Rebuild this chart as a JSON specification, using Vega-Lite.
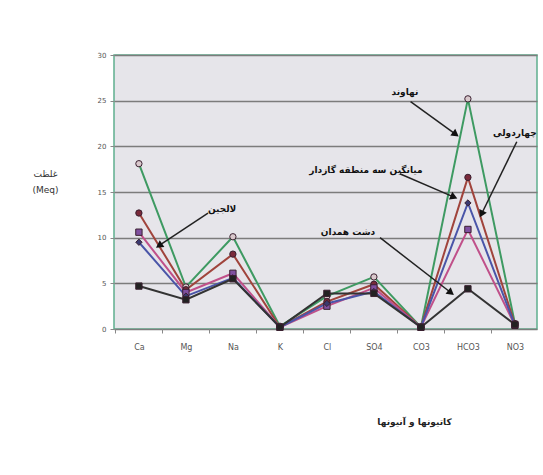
{
  "$schema": "https://vega.github.io/schema/vega-lite/v6.json",
  "width": 423,
  "height": 274,
  "autosize": "none",
  "padding": {"left": 114, "top": 55, "right": 6, "bottom": 146},
  "background": "white",
  "config": {
    "font": "DejaVu Sans",
    "view": {"fill": "#e6e5ea", "stroke": "#5fae8e", "strokeWidth": 1.5}
  },
  "resolve": {"axis": {"x": "independent"}},
  "datasets": {
    "ions": [
      {"s": "نهاوند", "ion": "Ca", "i": 0, "v": 18.1},
      {"s": "نهاوند", "ion": "Mg", "i": 1, "v": 4.6},
      {"s": "نهاوند", "ion": "Na", "i": 2, "v": 10.1},
      {"s": "نهاوند", "ion": "K", "i": 3, "v": 0.3},
      {"s": "نهاوند", "ion": "Cl", "i": 4, "v": 3.6},
      {"s": "نهاوند", "ion": "SO4", "i": 5, "v": 5.7},
      {"s": "نهاوند", "ion": "CO3", "i": 6, "v": 0.2},
      {"s": "نهاوند", "ion": "HCO3", "i": 7, "v": 25.2},
      {"s": "نهاوند", "ion": "NO3", "i": 8, "v": 0.6},
      {"s": "میانگین سه منطقه گازدار", "ion": "Ca", "i": 0, "v": 12.7},
      {"s": "میانگین سه منطقه گازدار", "ion": "Mg", "i": 1, "v": 4.3},
      {"s": "میانگین سه منطقه گازدار", "ion": "Na", "i": 2, "v": 8.2},
      {"s": "میانگین سه منطقه گازدار", "ion": "K", "i": 3, "v": 0.2},
      {"s": "میانگین سه منطقه گازدار", "ion": "Cl", "i": 4, "v": 3.0},
      {"s": "میانگین سه منطقه گازدار", "ion": "SO4", "i": 5, "v": 4.9},
      {"s": "میانگین سه منطقه گازدار", "ion": "CO3", "i": 6, "v": 0.2},
      {"s": "میانگین سه منطقه گازدار", "ion": "HCO3", "i": 7, "v": 16.6},
      {"s": "میانگین سه منطقه گازدار", "ion": "NO3", "i": 8, "v": 0.5},
      {"s": "لالجین", "ion": "Ca", "i": 0, "v": 10.6},
      {"s": "لالجین", "ion": "Mg", "i": 1, "v": 4.0},
      {"s": "لالجین", "ion": "Na", "i": 2, "v": 6.1},
      {"s": "لالجین", "ion": "K", "i": 3, "v": 0.2},
      {"s": "لالجین", "ion": "Cl", "i": 4, "v": 2.5},
      {"s": "لالجین", "ion": "SO4", "i": 5, "v": 4.5},
      {"s": "لالجین", "ion": "CO3", "i": 6, "v": 0.2},
      {"s": "لالجین", "ion": "HCO3", "i": 7, "v": 10.9},
      {"s": "لالجین", "ion": "NO3", "i": 8, "v": 0.4},
      {"s": "چهاردولی", "ion": "Ca", "i": 0, "v": 9.5},
      {"s": "چهاردولی", "ion": "Mg", "i": 1, "v": 3.6},
      {"s": "چهاردولی", "ion": "Na", "i": 2, "v": 5.6},
      {"s": "چهاردولی", "ion": "K", "i": 3, "v": 0.2},
      {"s": "چهاردولی", "ion": "Cl", "i": 4, "v": 2.8},
      {"s": "چهاردولی", "ion": "SO4", "i": 5, "v": 4.1},
      {"s": "چهاردولی", "ion": "CO3", "i": 6, "v": 0.2},
      {"s": "چهاردولی", "ion": "HCO3", "i": 7, "v": 13.8},
      {"s": "چهاردولی", "ion": "NO3", "i": 8, "v": 0.4},
      {"s": "دشت همدان", "ion": "Ca", "i": 0, "v": 4.7},
      {"s": "دشت همدان", "ion": "Mg", "i": 1, "v": 3.2},
      {"s": "دشت همدان", "ion": "Na", "i": 2, "v": 5.5},
      {"s": "دشت همدان", "ion": "K", "i": 3, "v": 0.2},
      {"s": "دشت همدان", "ion": "Cl", "i": 4, "v": 3.9},
      {"s": "دشت همدان", "ion": "SO4", "i": 5, "v": 3.9},
      {"s": "دشت همدان", "ion": "CO3", "i": 6, "v": 0.2},
      {"s": "دشت همدان", "ion": "HCO3", "i": 7, "v": 4.4},
      {"s": "دشت همدان", "ion": "NO3", "i": 8, "v": 0.5}
    ],
    "notes": [
      {"label": "نهاوند", "tx": 5.66, "ty": 25.9, "x1": 5.78, "y1": 24.9, "x2": 6.72, "y2": 21.4},
      {"label": "چهاردولی", "tx": 8.0, "ty": 21.5, "x1": 8.04, "y1": 20.5, "x2": 7.3, "y2": 12.7},
      {"label": "میانگین سه منطقه گازدار", "tx": 4.83, "ty": 17.4, "x1": 5.55, "y1": 17.0, "x2": 6.68, "y2": 14.5},
      {"label": "لالجین", "tx": 1.77, "ty": 13.1, "x1": 1.47, "y1": 12.7, "x2": 0.45, "y2": 9.2},
      {"label": "دشت همدان", "tx": 4.45, "ty": 10.6, "x1": 5.13, "y1": 10.0, "x2": 6.62, "y2": 4.05}
    ]
  },
  "layer": [
    {
      "data": {"name": "ions"},
      "mark": {"type": "line", "strokeWidth": 2},
      "encoding": {
        "x": {
          "field": "i", "type": "quantitative",
          "scale": {"domain": [-0.53, 8.47], "nice": false, "zero": false},
          "axis": {
            "orient": "bottom",
            "values": [0, 1, 2, 3, 4, 5, 6, 7, 8],
            "labelExpr": "datum.value == 0 ? 'Ca' : datum.value == 1 ? 'Mg' : datum.value == 2 ? 'Na' : datum.value == 3 ? 'K' : datum.value == 4 ? 'Cl' : datum.value == 5 ? 'SO4' : datum.value == 6 ? 'CO3' : datum.value == 7 ? 'HCO3' : 'NO3'",
            "labelOverlap": false,
            "labelFontSize": 8,
            "labelColor": "#555",
            "labelPadding": 14,
            "ticks": false,
            "grid": false,
            "domain": false,
            "title": "کاتیونها و آنیونها",
            "titleFontSize": 9,
            "titleFontWeight": "bold",
            "titleColor": "#222",
            "titleX": 300,
            "titleY": 92,
            "titleAnchor": "middle",
            "titleAlign": "center",
            "titleBaseline": "middle"
          }
        },
        "y": {
          "field": "v", "type": "quantitative",
          "scale": {"domain": [0, 30], "nice": false},
          "axis": {
            "values": [0, 5, 10, 15, 20, 25, 30],
            "labelFontSize": 7,
            "labelColor": "#555",
            "labelPadding": 4,
            "tickSize": 4,
            "tickColor": "#888",
            "domain": false,
            "grid": true,
            "gridColor": "#7c7c7c",
            "gridWidth": 1.3,
            "title": ["غلظت", "(Meq)"],
            "titleAngle": 0,
            "titleFontSize": 9,
            "titleFontWeight": "normal",
            "titleColor": "#333",
            "titleLineHeight": 16,
            "titleX": -69,
            "titleY": 118,
            "titleAlign": "center",
            "titleBaseline": "middle"
          }
        },
        "color": {
          "field": "s", "type": "nominal", "legend": null,
          "scale": {
            "domain": ["دشت همدان", "چهاردولی", "لالجین", "میانگین سه منطقه گازدار", "نهاوند"],
            "range": ["#333333", "#4a55a8", "#c0508a", "#a0443c", "#3e9a62"]
          }
        }
      }
    },
    {
      "data": {"name": "ions"},
      "mark": {"type": "point", "filled": true, "size": 40, "stroke": "#3a2030", "strokeWidth": 1, "opacity": 1},
      "encoding": {
        "x": {
          "field": "i", "type": "quantitative",
          "axis": {
            "orient": "bottom",
            "values": [-0.5, 0.5, 1.5, 2.5, 3.5, 4.5, 5.5, 6.5, 7.5, 8.5],
            "labels": false,
            "grid": false,
            "domain": false,
            "tickSize": 4,
            "tickColor": "#888",
            "title": null
          }
        },
        "y": {"field": "v", "type": "quantitative"},
        "fill": {
          "field": "s", "type": "nominal", "legend": null,
          "scale": {
            "domain": ["دشت همدان", "چهاردولی", "لالجین", "میانگین سه منطقه گازدار", "نهاوند"],
            "range": ["#222222", "#3a3a70", "#8050a0", "#7a2a3a", "#d9c8cc"]
          }
        },
        "shape": {
          "field": "s", "type": "nominal", "legend": null,
          "scale": {
            "domain": ["دشت همدان", "چهاردولی", "لالجین", "میانگین سه منطقه گازدار", "نهاوند"],
            "range": ["square", "diamond", "square", "circle", "circle"]
          }
        }
      }
    },
    {
      "data": {"name": "notes"},
      "mark": {"type": "rule", "color": "#222", "strokeWidth": 1.5},
      "encoding": {
        "x": {"field": "x1", "type": "quantitative", "axis": null},
        "y": {"field": "y1", "type": "quantitative"},
        "x2": {"field": "x2"},
        "y2": {"field": "y2"}
      }
    },
    {
      "data": {"name": "notes"},
      "mark": {
        "type": "point", "shape": "triangle", "filled": true, "size": 70, "color": "#111", "opacity": 1,
        "angle": {"expr": "atan2(scale('x', datum.x2) - scale('x', datum.x1), scale('y', datum.y1) - scale('y', datum.y2)) * 180 / PI"}
      },
      "encoding": {
        "x": {"field": "x2", "type": "quantitative", "axis": null},
        "y": {"field": "y2", "type": "quantitative"}
      }
    },
    {
      "data": {"name": "notes"},
      "mark": {"type": "text", "fontSize": 9, "fontWeight": "bold", "color": "#111", "align": "center", "baseline": "middle"},
      "encoding": {
        "x": {"field": "tx", "type": "quantitative", "axis": null},
        "y": {"field": "ty", "type": "quantitative"},
        "text": {"field": "label"}
      }
    }
  ]
}
